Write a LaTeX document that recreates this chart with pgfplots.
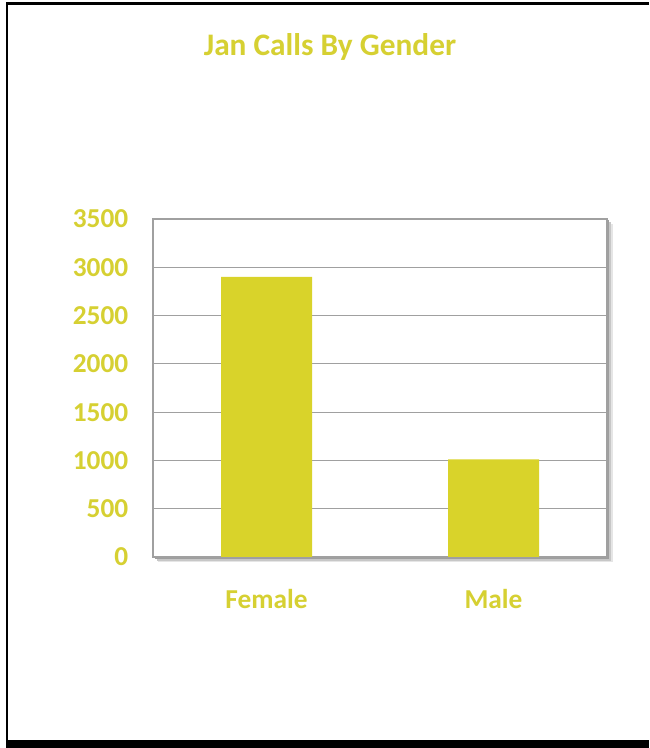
\documentclass[border=0pt]{standalone}
\usepackage{pgfplots}
\pgfplotsset{compat=1.18}
\usepackage{fontspec}
\setmainfont{Carlito}
\definecolor{bar}{RGB}{217,211,42}
\definecolor{txt}{RGB}{214,208,50}
\definecolor{gridc}{RGB}{160,160,160}
\begin{document}
\begin{tikzpicture}[x=0.75pt,y=0.75pt]
% canvas: image coords (x, 748-y)
\path[fill=white] (0,0) rectangle (649,748);
% frame
\fill[black] (6,0) rectangle (649,8);
\fill[black] (6,0) rectangle (8,745);
\fill[black] (6,743) rectangle (649,746);
% title
\node[font=\bfseries\fontsize{23.5}{26}\selectfont, text=txt] at (330,701) {Jan Calls By Gender};
% axis shadow
\fill[black!10] (158,186) rectangle (613,524);
\fill[black!22] (157,187) rectangle (611,526);
\fill[black!38] (155,189) rectangle (609,528);
\begin{axis}[
  at={(153*0.75pt,191*0.75pt)}, anchor=south west,
  width=454*0.75pt, height=338*0.75pt, scale only axis,
  ymin=0, ymax=3500, ytick={0,500,...,3500},
  xmin=-0.5, xmax=1.5, xtick={0,1}, xticklabels={Female,Male},
  ybar, bar width=91*0.75pt, bar shift=0pt,
  axis line style={gridc, line width=0.9pt},
  axis background/.style={fill=white},
  ymajorgrids, grid style={gridc, line width=0.9pt},
  major tick length=0pt,
  tick style={draw=none},
  /pgf/number format/assume math mode=true,
  /pgf/number format/1000 sep={},
  yticklabel style={font=\bfseries\fontsize{20.5}{24}\selectfont, text=txt, xshift=-15pt},
  xticklabel style={font=\bfseries\fontsize{20.5}{24}\selectfont, text=txt, yshift=-21pt},
]
\addplot[fill=bar, draw=none] coordinates {(0,2900) (1,1010)};
\end{axis}
\end{tikzpicture}
\end{document}
